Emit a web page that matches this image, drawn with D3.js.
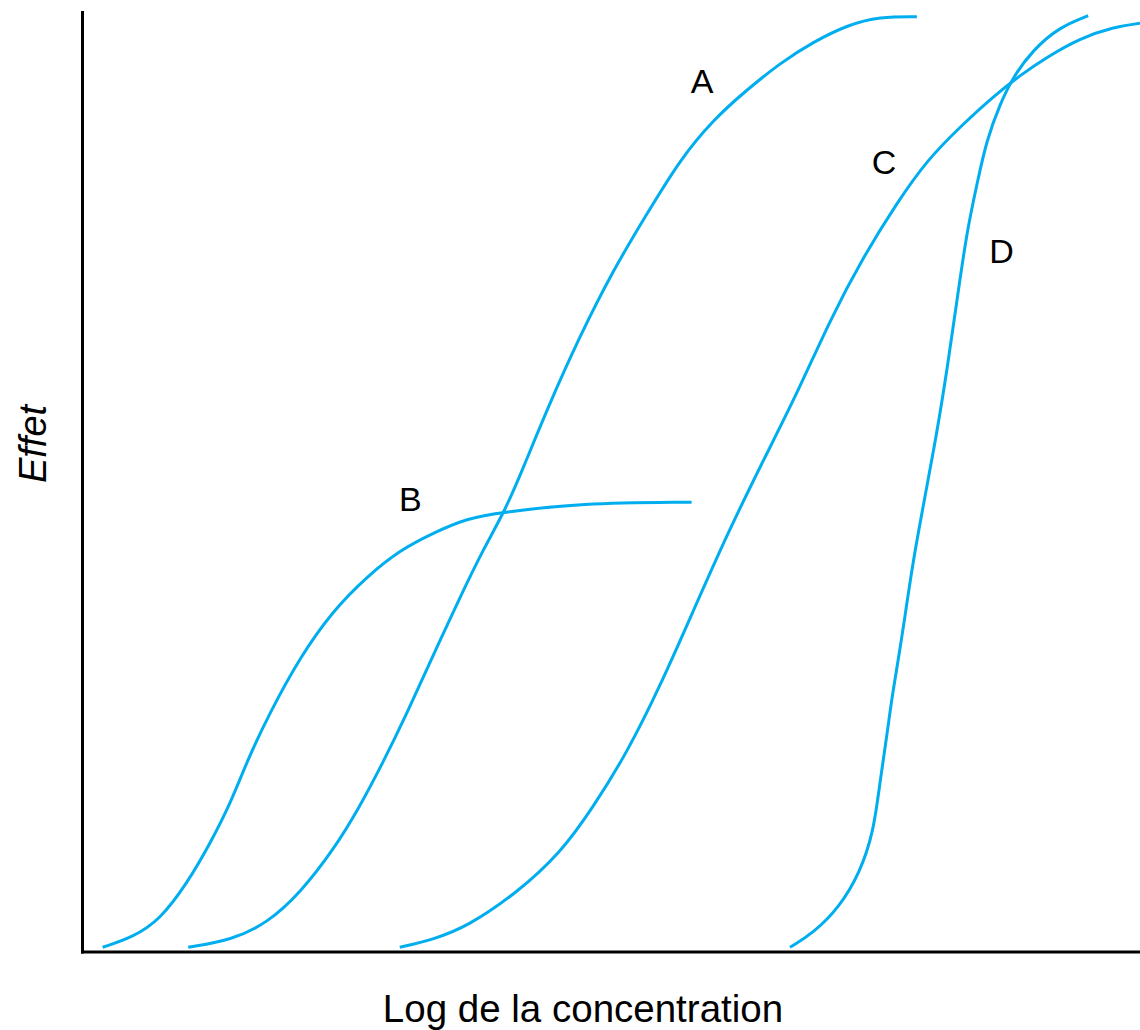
<!DOCTYPE html>
<html lang="fr">
<head>
<meta charset="utf-8">
<title>Courbes dose-effet</title>
<script src="https://cdn.jsdelivr.net/npm/d3@7"></script>
<style>
  html, body { margin: 0; padding: 0; background: #fff; }
  svg { display: block; }
  .lbl { font-family: "Liberation Sans", Arial, sans-serif; fill: #000; }
</style>
</head>
<body>
<svg id="chart" width="1140" height="1030"></svg>
<script>
// Log concentration (0–100) vs effect (0–100 %) for four agonists
const curveNames = ["A", "B", "C", "D"];

const concA = [10.0, 14.2, 17.5, 20.6, 23.7, 26.2, 28.4, 30.7, 33.1, 35.7, 37.9, 40.0, 41.7, 43.9, 47.0, 50.2, 53.4, 56.5, 59.6, 62.8, 66.0, 69.1, 72.3, 75.4, 78.9];
const effA  = [0.5, 1.3, 3.1, 6.3, 10.8, 15.4, 20.1, 25.4, 31.4, 37.7, 42.8, 47.0, 51.5, 57.6, 65.4, 72.5, 78.5, 84.2, 88.4, 91.6, 94.5, 96.7, 98.5, 99.4, 99.4];

const concB = [1.9, 4.8, 7.3, 9.9, 12.1, 14.0, 15.6, 17.7, 20.6, 23.7, 26.9, 30.0, 33.1, 36.4, 39.5, 47.0, 57.6];
const effB  = [0.5, 1.6, 3.4, 7.3, 11.6, 15.8, 20.4, 25.4, 31.4, 36.3, 39.9, 42.7, 44.5, 46.1, 46.7, 47.7, 47.8];

const concC = [30.0, 33.1, 36.4, 41.1, 45.2, 48.3, 51.5, 54.6, 57.7, 61.0, 64.4, 67.6, 70.7, 73.8, 77.0, 79.9, 83.0, 86.1, 88.7, 91.2, 94.3, 97.5, 100.0];
const effC  = [0.5, 1.3, 2.7, 6.3, 10.5, 15.4, 21.2, 28.2, 36.1, 44.5, 52.3, 59.4, 67.2, 73.8, 79.6, 84.2, 87.7, 90.9, 93.2, 95.1, 97.1, 98.3, 98.7];

const concD = [66.9, 69.1, 71.6, 73.5, 74.8, 75.4, 76.1, 76.6, 77.3, 78.0, 78.6, 79.6, 80.8, 81.8, 82.7, 83.6, 84.6, 85.5, 86.8, 88.0, 89.9, 92.4, 95.1];
const effD  = [0.5, 2.0, 4.8, 8.4, 12.7, 18.0, 23.3, 27.5, 32.1, 37.4, 41.9, 48.0, 55.2, 62.2, 69.3, 76.4, 81.7, 86.3, 90.2, 93.0, 95.9, 98.3, 99.5];

// Where each curve's letter sits, in chart units
const labelConc = [58.6, 31.0, 75.8, 86.9];
const labelEff  = [92.6, 48.2, 84.0, 74.5];

const xTitle = "Log de la concentration";
const yTitle = "Effet";

const series = [
  { name: "A", conc: concA, eff: effA },
  { name: "B", conc: concB, eff: effB },
  { name: "C", conc: concC, eff: effC },
  { name: "D", conc: concD, eff: effD }
];

const svg = d3.select("#chart");
const plotLeft = 82.5, plotRight = 1140, plotTop = 11, plotBottom = 952;

const x = d3.scaleLinear().domain([0, 100]).range([plotLeft, plotRight]);
const y = d3.scaleLinear().domain([0, 100]).range([plotBottom, plotTop]);

// Axes: plain black lines, no ticks
const gx = svg.append("g")
  .attr("transform", `translate(0,${plotBottom})`)
  .call(d3.axisBottom(x).ticks(0).tickSize(0).tickSizeOuter(0));
const gy = svg.append("g")
  .attr("transform", `translate(${plotLeft},0)`)
  .call(d3.axisLeft(y).ticks(0).tickSize(0).tickSizeOuter(0));
[gx, gy].forEach(g => {
  g.selectAll(".tick").remove();
  g.select(".domain").attr("stroke", "#000").attr("stroke-width", 3);
});
gx.select(".domain").attr("d", `M${plotLeft - 1.5},0H${plotRight}`);
gy.select(".domain").attr("d", `M0,${plotTop}V${plotBottom + 1.5}`);

// Dose-response curves, smoothed through the sampled points
const line = d3.line()
  .x(d => x(d[0]))
  .y(d => y(d[1]))
  .curve(d3.curveBasis);

svg.append("g")
  .selectAll("path")
  .data(series)
  .join("path")
  .attr("d", s => line(s.conc.map((c, i) => [c, s.eff[i]])))
  .attr("fill", "none")
  .attr("stroke", "#00aeef")
  .attr("stroke-width", 3)
  .attr("stroke-linejoin", "round");

// Curve letters
svg.append("g")
  .selectAll("text")
  .data(curveNames)
  .join("text")
  .attr("class", "lbl")
  .attr("x", (d, i) => x(labelConc[i]))
  .attr("y", (d, i) => y(labelEff[i]))
  .attr("dy", "0.36em")
  .attr("text-anchor", "middle")
  .style("font-size", "34px")
  .text(d => d);

// Axis titles
svg.append("text")
  .attr("class", "lbl")
  .attr("x", 583)
  .attr("y", 1022)
  .attr("text-anchor", "middle")
  .style("font-size", "38.5px")
  .text(xTitle);

svg.append("text")
  .attr("class", "lbl")
  .attr("transform", "translate(46,444) rotate(-90)")
  .attr("text-anchor", "middle")
  .style("font-size", "38px")
  .style("font-style", "italic")
  .text(yTitle);
</script>
</body>
</html>
